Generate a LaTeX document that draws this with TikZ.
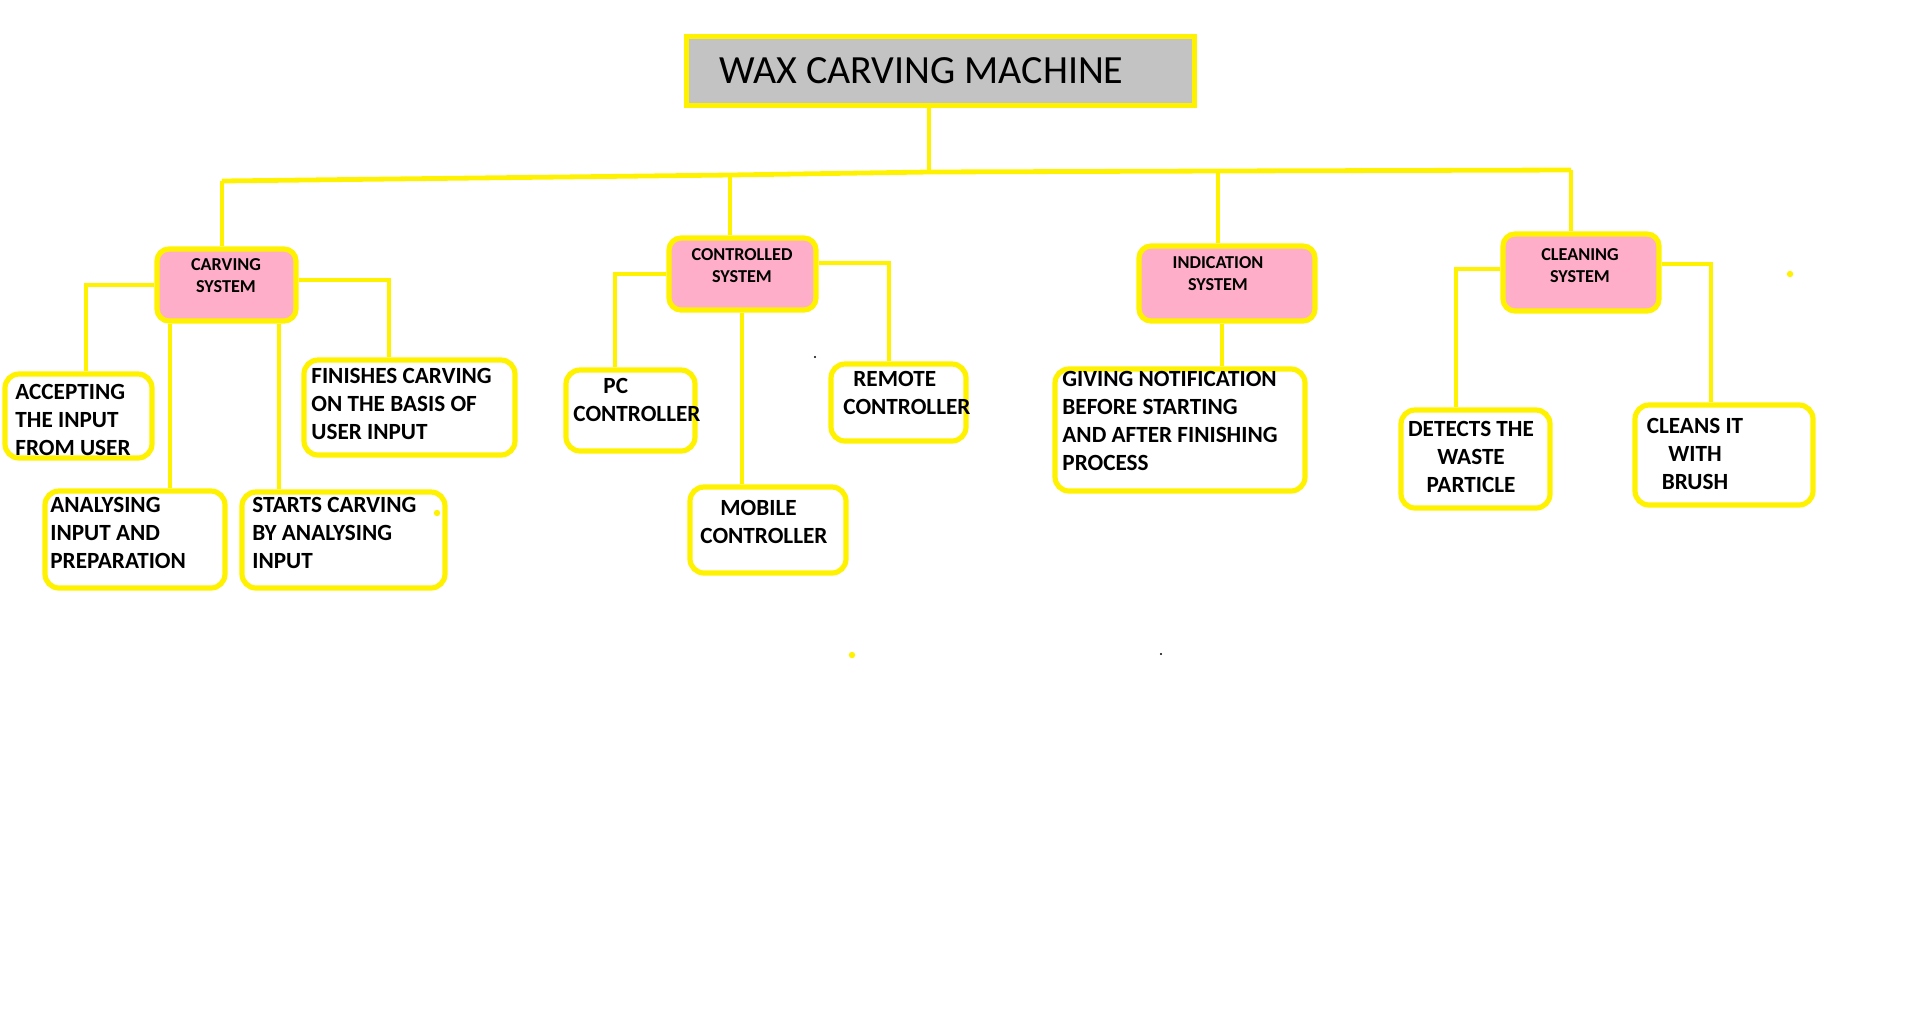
\documentclass[tikz,border=0pt]{standalone}
\usepackage{fontspec}
\setmainfont{Carlito}
\usepackage{tikz}
\usetikzlibrary{fit}
\definecolor{wyellow}{RGB}{255,242,0}
\definecolor{wpink}{RGB}{255,174,201}
\definecolor{wgray}{RGB}{195,195,195}
\tikzstyle{wire}=[line width=2.4pt,draw=wyellow]
\tikzstyle{headbox}=[draw=wyellow,line width=2.5pt,fill=wgray,inner sep=0pt]
\tikzstyle{sysbox}=[draw=wyellow,line width=2.6pt,fill=wpink,rounded corners=6pt,inner sep=0pt]
\tikzstyle{leafbox}=[draw=wyellow,line width=2.6pt,fill=white,rounded corners=7pt,inner sep=0pt]
\tikzstyle{systxt}=[font=\bfseries\fontsize{9.1}{11}\selectfont,align=center,inner sep=0pt,anchor=north]
\tikzstyle{leaftxt}=[font=\bfseries\fontsize{11.6}{14}\selectfont,align=left,inner sep=0pt,anchor=north west]

\begin{document}
\begin{tikzpicture}[x=0.5pt,y=-0.5pt]
\fill[white] (0,0) rectangle (1914,1014);
\useasboundingbox (0,0) rectangle (1914,1014);

%titre
\node[headbox,fit={(686,36) (1194,105)}] (title) {};
\node[anchor=base west,inner sep=0pt,font=\fontsize{20}{24}\selectfont] (titleT) at (719,83) {WAX CARVING MACHINE};

%les 4 systemes
\node[sysbox,fit={(157,249) (296,321)}] (carv) {};
\node[systxt] (carvT) at (226,258) {CARVING\\SYSTEM};
\node[sysbox,fit={(669,238) (816,310)}] (ctrl) {};
\node[systxt] (ctrlT) at (742,248) {CONTROLLED\\SYSTEM};
\node[sysbox,fit={(1139,246) (1315,321)}] (ind) {};
\node[systxt] (indT) at (1218,256) {INDICATION\\SYSTEM};
\node[sysbox,fit={(1503,234) (1659,311)}] (cln) {};
\node[systxt] (clnT) at (1580,248) {CLEANING\\SYSTEM};

%feuilles
\node[leafbox,fit={(5,374) (152,458)}] (acc) {};
\node[leaftxt] (accT) at (15,384) {ACCEPTING\\THE INPUT\\FROM USER};
\node[leafbox,fit={(45,491) (225,588)}] (ana) {};
\node[leaftxt] (anaT) at (50,497) {ANALYSING\\INPUT AND\\PREPARATION};
\node[leafbox,fit={(242,492) (445,588)}] (sta) {};
\node[leaftxt] (staT) at (252,497) {STARTS CARVING\\BY ANALYSING\\INPUT};
\node[leafbox,fit={(304,360) (515,455)}] (fin) {};
\node[leaftxt] (finT) at (311,368) {FINISHES CARVING\\ON THE BASIS OF\\USER INPUT};

\node[leafbox,fit={(566,370) (695,451)}] (pc) {};
\node[leaftxt] (pcT) at (573,378) {\hspace*{15pt}PC\\CONTROLLER};
\node[leafbox,fit={(690,487) (846,573)}] (mob) {};
\node[leaftxt] (mobT) at (700,500) {\hspace*{10pt}MOBILE\\CONTROLLER};
\node[leafbox,fit={(831,364) (966,441)}] (rem) {};
\node[leaftxt] (remT) at (843,371) {\hspace*{5pt}REMOTE\\CONTROLLER};

\node[leafbox,fit={(1055,369) (1305,491)}] (giv) {};
\node[leaftxt] (givT) at (1062,371) {GIVING NOTIFICATION\\BEFORE STARTING\\AND AFTER FINISHING\\PROCESS};

\node[leafbox,fit={(1401,410) (1550,508)}] (det) {};
\node[leaftxt,align=center,anchor=north] (detT) at (1471,421) {DETECTS THE\\WASTE\\PARTICLE};
\node[leafbox,fit={(1635,405) (1813,505)}] (cle) {};
\node[leaftxt,align=center,anchor=north] (cleT) at (1695,418) {CLEANS IT\\WITH\\BRUSH};

%bus principal
\coordinate (bl) at (222,181);
\coordinate (bc) at (730,175);
\coordinate (bt) at (929,172);
\coordinate (bi) at (1218,171);
\coordinate (br) at (1571,170);
\draw[wire] (title.south -| bt) -- (bt);
\draw[wire] (bl) -- (bc) -- (bt) -- (bi) -- (br);
\draw[wire] (bl) -- (carv.north -| bl);
\draw[wire] (bc) -- (ctrl.north -| bc);
\draw[wire] (bi) -- (ind.north -| bi);
\draw[wire] (br) -- (cln.north -| br);

%sous-arbre carving
\coordinate (ca) at (86,285);
\coordinate (cb) at (170,400);
\coordinate (cc) at (279,400);
\coordinate (cd) at (389,280);
\draw[wire] (carv.west |- ca) -| (acc.north -| ca);
\draw[wire] (carv.south -| cb) -- (ana.north -| cb);
\draw[wire] (carv.south -| cc) -- (sta.north -| cc);
\draw[wire] (carv.east |- cd) -| (fin.north -| cd);

%sous-arbre controlled
\coordinate (pa) at (615,274);
\coordinate (pm) at (742,400);
\coordinate (pr) at (889,263);
\draw[wire] (ctrl.west |- pa) -| (pc.north -| pa);
\draw[wire] (ctrl.south -| pm) -- (mob.north -| pm);
\draw[wire] (ctrl.east |- pr) -| (rem.north -| pr);

%indication et cleaning
\coordinate (ia) at (1222,340);
\coordinate (ka) at (1456,269);
\coordinate (kb) at (1711,264);
\draw[wire] (ind.south -| ia) -- (giv.north -| ia);
\draw[wire] (cln.west |- ka) -| (det.north -| ka);
\draw[wire] (cln.east |- kb) -| (cle.north -| kb);

%points isoles
\fill[wyellow] (437,513) circle (1.6pt);
\fill[wyellow] (1790,274) circle (1.6pt);
\fill[wyellow] (852,655) circle (1.6pt);
\fill[black] (815,357) circle (0.6pt);
\fill[black] (1161,654) circle (0.6pt);
\end{tikzpicture}
\end{document}
